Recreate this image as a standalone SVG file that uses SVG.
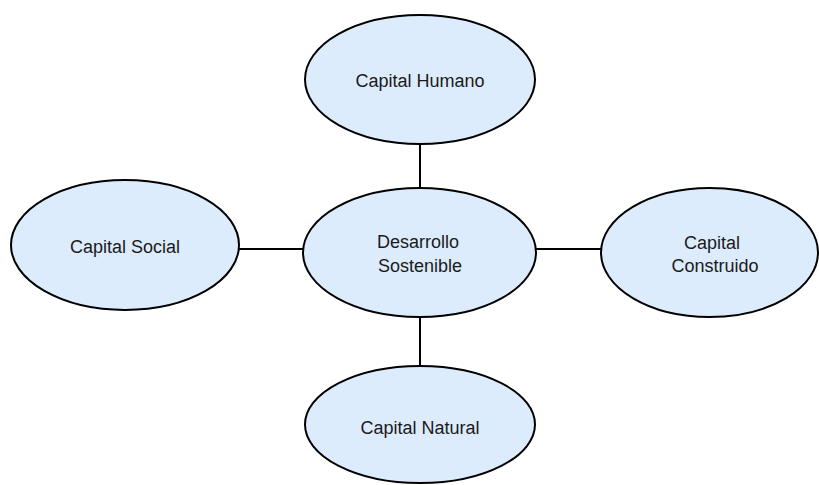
<svg xmlns="http://www.w3.org/2000/svg" width="819" height="485" viewBox="0 0 819 485">
<style>
.node ellipse{fill:#ddecfd;stroke:#000;stroke-width:2}
.node text{font-family:"Liberation Sans",Arial,sans-serif;font-size:18px;fill:#1a1a1a;text-anchor:middle}
.edges line{stroke:#000;stroke-width:2}
</style>
<rect width="819" height="485" fill="#fff"/>
<g class="edges">
<line x1="420" y1="144" x2="420" y2="188"/>
<line x1="420" y1="317" x2="420" y2="366"/>
<line x1="239" y1="249" x2="303" y2="249"/>
<line x1="536" y1="249" x2="601" y2="249"/>
</g>
<g id="humano" class="node">
<ellipse cx="420" cy="79.5" rx="115" ry="64.5"/>
<text x="420" y="87">Capital Humano</text>
</g>
<g id="desarrollo" class="node">
<ellipse cx="419.5" cy="252.5" rx="116.5" ry="64.5"/>
<text x="418" y="248">Desarrollo</text>
<text x="420" y="272">Sostenible</text>
</g>
<g id="social" class="node">
<ellipse cx="125" cy="245" rx="114" ry="65"/>
<text x="125" y="253">Capital Social</text>
</g>
<g id="construido" class="node">
<ellipse cx="709.5" cy="252.5" rx="108.5" ry="64.5"/>
<text x="712" y="249">Capital</text>
<text x="715" y="272">Construido</text>
</g>
<g id="natural" class="node">
<ellipse cx="420" cy="424.5" rx="115" ry="58.5"/>
<text x="420" y="434">Capital Natural</text>
</g>
</svg>
